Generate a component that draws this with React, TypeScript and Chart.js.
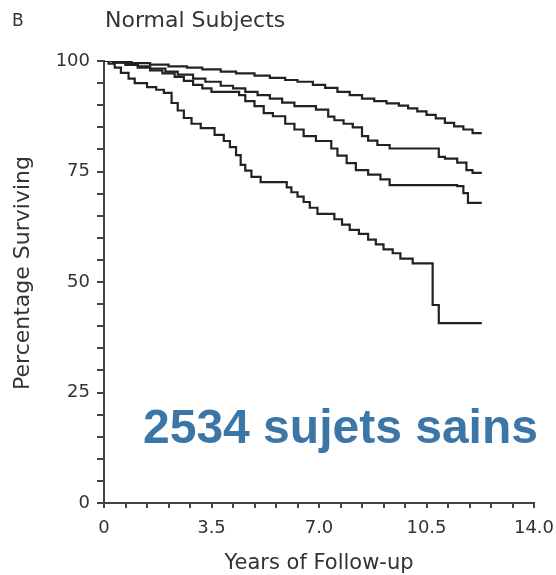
import React, { useEffect, useRef } from "react";
import { Chart, registerables } from "chart.js";

Chart.register(...registerables);

// ---- data (years, percentage surviving) ----
const curve1Times = [0, 0.4, 0.9, 1.5, 2.1, 2.7, 3.2, 3.8, 4.3, 4.9, 5.4, 5.9, 6.3, 6.8, 7.2, 7.6, 8.0, 8.4, 8.8, 9.2, 9.6, 9.9, 10.2, 10.5, 10.8, 11.1, 11.4, 11.7, 12.0, 12.3];
const curve1Values = [100, 99.8, 99.5, 99.2, 98.8, 98.5, 98.1, 97.6, 97.2, 96.7, 96.2, 95.7, 95.3, 94.6, 93.9, 93.0, 92.3, 91.5, 90.9, 90.4, 89.9, 89.3, 88.6, 87.8, 87.0, 86.0, 85.2, 84.5, 83.7, 83.7];

const curve2Times = [0, 0.3, 0.7, 1.1, 1.5, 2.0, 2.4, 2.9, 3.3, 3.8, 4.2, 4.6, 5.0, 5.4, 5.8, 6.2, 6.9, 7.3, 7.5, 7.8, 8.1, 8.4, 8.6, 8.9, 9.3, 10.9, 11.1, 11.5, 11.8, 12.0, 12.3];
const curve2Values = [100, 99.7, 99.3, 98.8, 98.3, 97.6, 96.9, 96.0, 95.3, 94.4, 93.8, 93.0, 92.3, 91.5, 90.6, 89.8, 89.0, 87.4, 86.6, 85.8, 85.0, 83.0, 82.0, 81.0, 80.2, 78.3, 77.9, 77.0, 75.3, 74.7, 74.7];

const curve3Times = [0, 0.3, 0.7, 1.1, 1.5, 1.9, 2.3, 2.6, 2.9, 3.2, 3.5, 4.4, 4.6, 4.9, 5.2, 5.5, 5.9, 6.2, 6.5, 6.9, 7.4, 7.6, 7.9, 8.2, 8.6, 9.0, 9.3, 11.5, 11.7, 11.85, 12.3];
const curve3Values = [100, 99.6, 99.1, 98.5, 97.9, 97.2, 96.4, 95.5, 94.6, 93.8, 93.0, 92.3, 90.9, 89.8, 88.2, 87.5, 85.8, 84.5, 83.0, 81.9, 80.2, 78.6, 76.9, 75.3, 74.3, 73.2, 71.9, 71.7, 70.1, 67.9, 67.9];

const curve4Times = [0, 0.15, 0.35, 0.55, 0.8, 1.0, 1.4, 1.7, 1.95, 2.2, 2.4, 2.6, 2.85, 3.15, 3.6, 3.9, 4.1, 4.3, 4.45, 4.6, 4.8, 5.1, 5.95, 6.1, 6.3, 6.5, 6.7, 6.95, 7.5, 7.75, 8.0, 8.3, 8.6, 8.85, 9.1, 9.4, 9.65, 10.05, 10.7, 10.9, 12.3];
const curve4Values = [100, 99.4, 98.5, 97.3, 96.0, 95.0, 94.1, 93.5, 92.8, 90.5, 88.8, 87.1, 85.8, 84.8, 83.3, 81.9, 80.5, 78.7, 76.5, 75.2, 73.8, 72.6, 71.4, 70.3, 69.3, 68.1, 66.8, 65.4, 64.2, 63.0, 61.8, 60.9, 59.6, 58.5, 57.4, 56.5, 55.3, 54.2, 44.8, 40.7, 40.7];

const xTickLabels = ["0", "3.5", "7.0", "10.5", "14.0"];
const yTickLabels = ["0", "25", "50", "75", "100"];

const panelLetter = "B";
const chartTitle = "Normal Subjects";
const xAxisTitle = "Years of Follow-up";
const yAxisTitle = "Percentage Surviving";
const annotationText = "2534 sujets sains";
const annotationX = 1.27;
const annotationY = 13.6;

const INK = "#333333";
const LINE = "#222222";
const FONT = '"DejaVu Sans", sans-serif';

function toPoints(times: number[], values: number[]) {
  return times.map((t, i) => ({ x: t, y: values[i] }));
}

const textPlugin = {
  id: "textPlugin",
  afterDraw(chart: any) {
    const { ctx, chartArea, scales } = chart;
    ctx.save();
    ctx.fillStyle = INK;
    ctx.textBaseline = "alphabetic";
    // panel letter
    ctx.font = `17px ${FONT}`;
    ctx.textAlign = "left";
    ctx.fillText(panelLetter, 12, 26);
    // title
    ctx.font = `22px ${FONT}`;
    ctx.fillText(chartTitle, chartArea.left + 1, 27);
    // x title
    ctx.textAlign = "center";
    ctx.font = `21px ${FONT}`;
    ctx.fillText(xAxisTitle, (chartArea.left + chartArea.right) / 2, 569);
    // y title
    ctx.save();
    ctx.translate(29, 273);
    ctx.rotate(-Math.PI / 2);
    ctx.font = `22px ${FONT}`;
    ctx.fillText(yAxisTitle, 0, 0);
    ctx.restore();
    // annotation
    ctx.textAlign = "left";
    ctx.font = 'bold 48px "Liberation Sans", Arial, sans-serif';
    ctx.fillStyle = "rgb(59,118,166)";
    ctx.fillText(
      annotationText,
      scales.x.getPixelForValue(annotationX),
      scales.y.getPixelForValue(annotationY)
    );
    ctx.restore();
  },
};

export default function App() {
  const ref = useRef<HTMLCanvasElement | null>(null);

  useEffect(() => {
    if (!ref.current) return;
    const mk = (times: number[], values: number[], label: string) => ({
      label,
      data: toPoints(times, values),
      borderColor: LINE,
      borderWidth: 2.2,
      pointRadius: 0,
      fill: false,
      stepped: "before" as const,
    });
    const chart = new Chart(ref.current, {
      type: "line",
      data: {
        datasets: [
          mk(curve1Times, curve1Values, "Group 1"),
          mk(curve2Times, curve2Values, "Group 2"),
          mk(curve3Times, curve3Values, "Group 3"),
          mk(curve4Times, curve4Values, "Group 4"),
        ],
      },
      options: {
        responsive: false,
        animation: false,
        layout: { padding: { top: 61, right: 22, left: 0, bottom: 0 } },
        plugins: {
          legend: { display: false },
          title: { display: false },
          tooltip: { enabled: false },
        },
        scales: {
          x: {
            type: "linear",
            min: 0,
            max: 14,
            afterFit: (s: any) => {
              s.height = 72;
              s.paddingLeft = 0;
              s.paddingRight = 0;
            },
            border: { display: true, color: "#444", width: 2 },
            grid: {
              drawOnChartArea: false,
              drawTicks: true,
              tickLength: 5,
              color: "#444",
              lineWidth: 2,
            },
            ticks: {
              stepSize: 0.7,
              autoSkip: false,
              maxRotation: 0,
              minRotation: 0,
              padding: 10,
              color: INK,
              font: { family: FONT, size: 18 },
              callback: (_v: any, i: number) => (i % 5 === 0 ? xTickLabels[i / 5] : ""),
            },
          },
          y: {
            type: "linear",
            min: 0,
            max: 100,
            afterFit: (s: any) => {
              s.width = 104;
              s.paddingTop = 0;
              s.paddingBottom = 0;
            },
            border: { display: true, color: "#444", width: 2 },
            grid: {
              drawOnChartArea: false,
              drawTicks: true,
              tickLength: 7,
              color: "#444",
              lineWidth: 2,
            },
            ticks: {
              stepSize: 5,
              autoSkip: false,
              padding: 7,
              color: INK,
              font: { family: FONT, size: 18 },
              callback: (_v: any, i: number) => (i % 5 === 0 ? yTickLabels[i / 5] : ""),
            },
          },
        },
      },
      plugins: [textPlugin],
    });
    return () => chart.destroy();
  }, []);

  return (
    <div style={{ position: "absolute", left: 0, top: 0, width: 556, height: 575, background: "#fff" }}>
      <canvas ref={ref} width={556} height={575} />
    </div>
  );
}
